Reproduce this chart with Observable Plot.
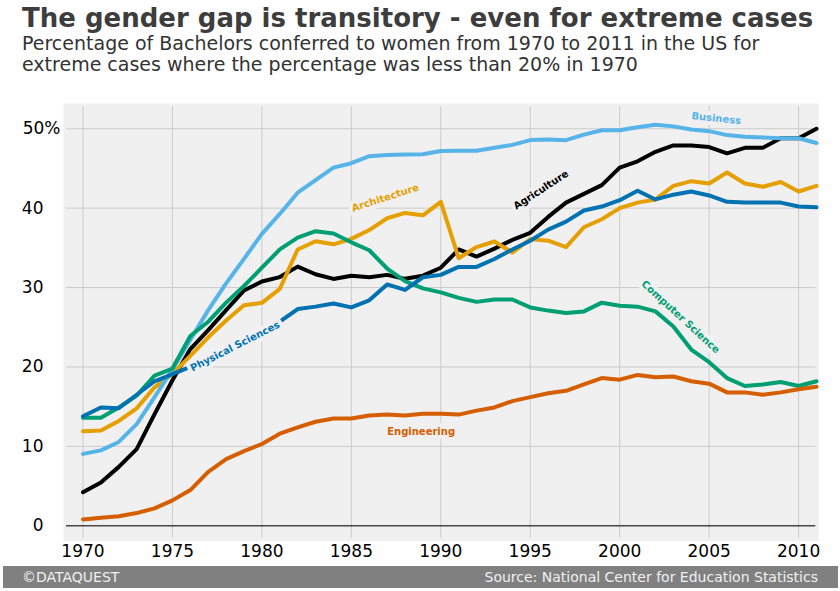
<!DOCTYPE html>
<html>
<head>
<meta charset="utf-8">
<script src="https://cdn.jsdelivr.net/npm/d3@7"></script>
<script src="https://cdn.jsdelivr.net/npm/@observablehq/plot@0.6"></script>
<style>
  html, body { margin: 0; padding: 0; background: #ffffff; }
  #wrap { position: relative; width: 840px; height: 591px; overflow: hidden; font-family: "DejaVu Sans", sans-serif; }
  #title { position: absolute; left: 22px; top: 5px; font-size: 26px; line-height: 26px; font-weight: bold; color: #3d3d3d; white-space: nowrap; }
  #subtitle { position: absolute; left: 22px; top: 32.7px; font-size: 19px; line-height: 21.5px; color: #333333; white-space: nowrap; }
  #chart { position: absolute; left: 0; top: 0; }
  #footer { position: absolute; left: 3px; top: 566px; width: 835px; height: 22px; background: #808080; color: #f0f0f0; font-size: 14px; line-height: 22px; }
  #footer .l { position: absolute; left: 19px; top: 0; }
  #footer .r { position: absolute; right: 20px; top: 0; }
</style>
</head>
<body>
<div id="wrap">
  <div id="chart"></div>
  <div id="title">The gender gap is transitory - even for extreme cases</div>
  <div id="subtitle">Percentage of Bachelors conferred to women from 1970 to 2011 in the US for<br>extreme cases where the percentage was less than 20% in 1970</div>
  <div id="footer"><span class="l">©DATAQUEST</span><span class="r">Source: National Center for Education Statistics</span></div>
</div>
<script>
const years = [1970,1971,1972,1973,1974,1975,1976,1977,1978,1979,1980,1981,1982,1983,1984,1985,1986,1987,1988,1989,1990,1991,1992,1993,1994,1995,1996,1997,1998,1999,2000,2001,2002,2003,2004,2005,2006,2007,2008,2009,2010,2011];

const agriculture = [4.23,5.45,7.42,9.65,14.07,18.33,22.25,24.64,27.15,29.63,30.76,31.32,32.64,31.68,31.09,31.48,31.29,31.6,31.1,31.5,32.5,34.8,33.9,34.9,36.0,36.9,38.9,40.7,41.8,42.9,45.1,45.9,47.1,47.9,47.9,47.7,46.9,47.6,47.6,48.8,48.8,50.0];
const architecture = [11.92,12.0,13.21,14.79,17.44,19.13,21.39,23.74,25.85,27.77,28.08,29.84,34.8,35.83,35.45,36.13,37.24,38.73,39.4,39.1,40.8,33.7,35.1,35.8,34.4,36.1,35.9,35.1,37.6,38.6,40.0,40.7,41.1,42.8,43.4,43.1,44.5,43.1,42.7,43.3,42.1,42.8];
const business = [9.06,9.5,10.56,12.8,16.2,19.69,23.43,27.16,30.53,33.62,36.76,39.27,41.95,43.54,45.1,45.66,46.55,46.7,46.76,46.79,47.2,47.22,47.22,47.6,47.97,48.57,48.64,48.56,49.26,49.81,49.8,50.2,50.5,50.3,49.9,49.7,49.2,49.0,48.9,48.8,48.8,48.2];
const computerScience = [13.6,13.6,14.9,16.4,18.9,19.8,23.9,25.7,28.1,30.2,32.5,34.8,36.3,37.1,36.8,35.7,34.7,32.4,30.8,29.9,29.4,28.7,28.2,28.5,28.5,27.5,27.1,26.8,27.0,28.1,27.7,27.6,27.0,25.1,22.2,20.6,18.6,17.6,17.8,18.1,17.6,18.2];
const engineering = [0.8,1.0,1.2,1.6,2.2,3.2,4.5,6.8,8.4,9.4,10.3,11.6,12.4,13.1,13.5,13.5,13.9,14.0,13.9,14.1,14.1,14.0,14.5,14.9,15.7,16.2,16.7,17.0,17.8,18.6,18.4,19.0,18.7,18.8,18.2,17.9,16.8,16.8,16.5,16.8,17.2,17.5];
const physicalSciences = [13.8,14.9,14.8,16.5,18.2,19.1,20.0,21.3,22.5,23.7,24.6,25.7,27.3,27.6,28.0,27.5,28.4,30.4,29.7,31.3,31.6,32.6,32.6,33.6,34.8,35.9,37.3,38.3,39.7,40.2,41.0,42.2,41.1,41.7,42.1,41.6,40.8,40.7,40.7,40.7,40.2,40.1];

const subjects = ["Agriculture","Architecture","Business","Computer Science","Engineering","Physical Sciences"];
const series = [agriculture, architecture, business, computerScience, engineering, physicalSciences];
const colors = ["#000000","#e69f00","#56b4e9","#009e73","#d55e00","#0072b2"];

const xTicks = [1970,1975,1980,1985,1990,1995,2000,2005,2010];
const yTicks = [0,10,20,30,40,50];

// label annotations (data coordinates + rotation)
const labelYear = [1995.6, 1986.9, 2005.4, 2003.4, 1988.9, 1978.5];
const labelValue = [42.3, 41.3, 51.3, 26.3, 11.9, 22.6];
const labelRotate = [-33, -18, 6, 42.5, 0, -27];

const long = [];
subjects.forEach((s, i) => years.forEach((yr, j) => long.push({subject: s, year: yr, value: series[i][j]})));
const labels = subjects.map((s, i) => ({subject: s, year: labelYear[i], value: labelValue[i], rotate: labelRotate[i]}));

const chart = Plot.plot({
  width: 840,
  height: 591,
  marginTop: 103,
  marginBottom: 50.3,
  marginLeft: 63,
  marginRight: 21.7,
  style: {fontFamily: "DejaVu Sans", background: "transparent", color: "#000"},
  x: {domain: [1968.91, 2011.13], label: null},
  y: {domain: [-1.94, 53.18], label: null},
  color: {domain: subjects, range: colors},
  marks: [
    Plot.frame({fill: "#f0f0f0", stroke: "none"}),
    Plot.ruleX(xTicks, {stroke: "#cbcbcb", strokeWidth: 1, insetTop: 3, insetBottom: 3}),
    Plot.ruleY(yTicks.filter(d => d !== 0), {stroke: "#cbcbcb", strokeWidth: 1, insetLeft: 3, insetRight: 3}),
    Plot.ruleY([0], {stroke: "#000", strokeOpacity: 0.7, strokeWidth: 1.6, insetLeft: 3, insetRight: 3}),
    Plot.lineY(long, {x: "year", y: "value", z: "subject", stroke: "subject", strokeWidth: 4, curve: "linear"}),
    Plot.text(labels, {x: "year", y: "value", text: "subject", rotate: "rotate", fill: "subject",
      fontWeight: "bold", fontSize: 10, stroke: "#f0f0f0", strokeWidth: 8, strokeLinejoin: "round"}),
    Plot.axisX(xTicks, {tickSize: 0, tickPadding: 3.5, fontSize: 17, tickFormat: d => String(d), label: null, fill: "#000"}),
    Plot.axisY([0,10,20,30,40], {tickSize: 0, tickPadding: 20, fontSize: 17, label: null, fill: "#000"}),
    Plot.axisY([50], {tickSize: 0, tickPadding: 3, fontSize: 17, tickFormat: d => d + "%", label: null, fill: "#000"})
  ]
});
document.getElementById("chart").appendChild(chart);
</script>
</body>
</html>
